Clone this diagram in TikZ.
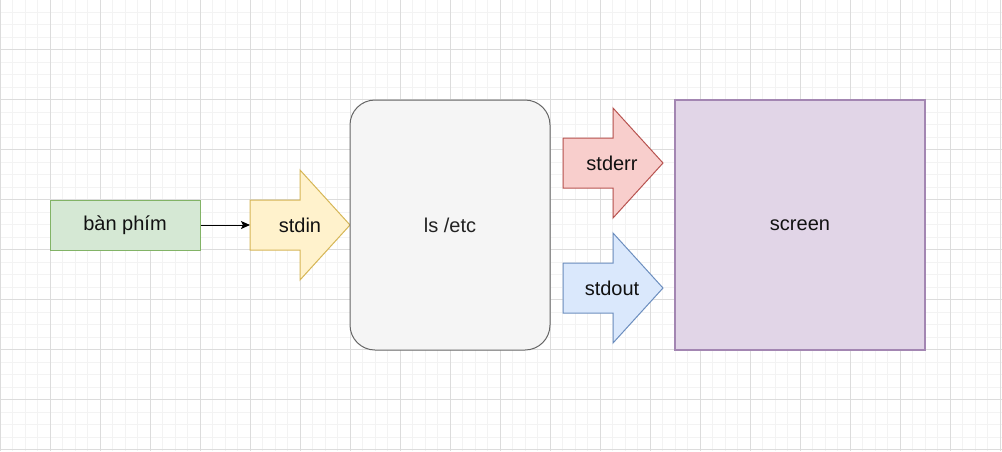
\documentclass[tikz,border=0pt]{standalone}
\usepackage{fontspec}
\setmainfont{Liberation Sans}
\usetikzlibrary{arrows.meta}
\definecolor{gridmajor}{HTML}{DCDCDC}
\definecolor{gridminor}{HTML}{F3F3F3}
\definecolor{grnfill}{HTML}{D5E8D4}
\definecolor{grnline}{HTML}{82B366}
\definecolor{ylwfill}{HTML}{FFF2CC}
\definecolor{ylwline}{HTML}{D6B656}
\definecolor{grayfill}{HTML}{F5F5F5}
\definecolor{grayline}{HTML}{666666}
\definecolor{redfill}{HTML}{F8CECC}
\definecolor{redline}{HTML}{B85450}
\definecolor{bluefill}{HTML}{DAE8FC}
\definecolor{blueline}{HTML}{6C8EBF}
\definecolor{purfill}{HTML}{E1D5E7}
\definecolor{purline}{HTML}{A386B2}
\definecolor{txt}{HTML}{111111}
\definecolor{lstxt}{HTML}{222222}
\newcommand\myblockarrow[3]{%
  \draw[#3, line width=1pt, miter limit=10]
    (#1,#2-25) -- (#1+50,#2-25) -- (#1+50,#2-55) -- (#1+100,#2)
    -- (#1+50,#2+55) -- (#1+50,#2+25) -- (#1,#2+25) -- cycle;}
\tikzset{
  minorline/.style={gridminor, line width=1pt},
  majorline/.style={gridmajor, line width=1pt},
  lbl/.style={text=txt, inner sep=0pt},
}
\begin{document}
\begin{tikzpicture}[x=1pt, y=-1pt, font=\fontsize{20}{24}\selectfont]
\useasboundingbox (0,0) rectangle (1002,451);
\fill[white] (0,0) rectangle (1002,451);
% grid
\foreach \i in {0,...,80} \draw[minorline] (12.5*\i,0) -- (12.5*\i,451);
\foreach \j in {-4,...,32} \draw[minorline] (0,49.5+12.5*\j) -- (1002,49.5+12.5*\j);
\foreach \i in {0,...,20} \draw[majorline] (50*\i,0) -- (50*\i,451);
\foreach \j in {-1,...,8} \draw[majorline] (0,49.5+50*\j) -- (1002,49.5+50*\j);
% keyboard
\node[draw=grnline, fill=grnfill, line width=1pt, minimum width=150pt, minimum height=50pt, inner sep=0pt, text=txt] (kbd) at (125,225) {bàn phím};
% stdin arrow
\myblockarrow{250}{225}{draw=ylwline, fill=ylwfill}
\coordinate (stdinL) at (250,225);
\node[lbl] (stdin) at (300,225) {stdin};
% ls /etc
\node[draw=grayline, fill=grayfill, line width=1pt, rounded corners=25pt, minimum width=200pt, minimum height=250pt, inner sep=0pt, text=lstxt] (ls) at (450,225) {ls /etc};
% stderr / stdout arrows
\myblockarrow{563}{163}{draw=redline, fill=redfill}
\node[lbl] (stderr) at (612,163) {stderr};
\myblockarrow{563}{288}{draw=blueline, fill=bluefill}
\node[lbl] (stdout) at (612,288) {stdout};
% screen
\node[draw=purline, fill=purfill, line width=1.5pt, minimum width=250pt, minimum height=250pt, inner sep=0pt, text=txt] (scr) at (800,225) {screen};
% connector
\draw[line width=1pt, -{Stealth[length=9pt, width=8pt, inset=2pt]}] (kbd.east) -- (stdinL);
\end{tikzpicture}
\end{document}
